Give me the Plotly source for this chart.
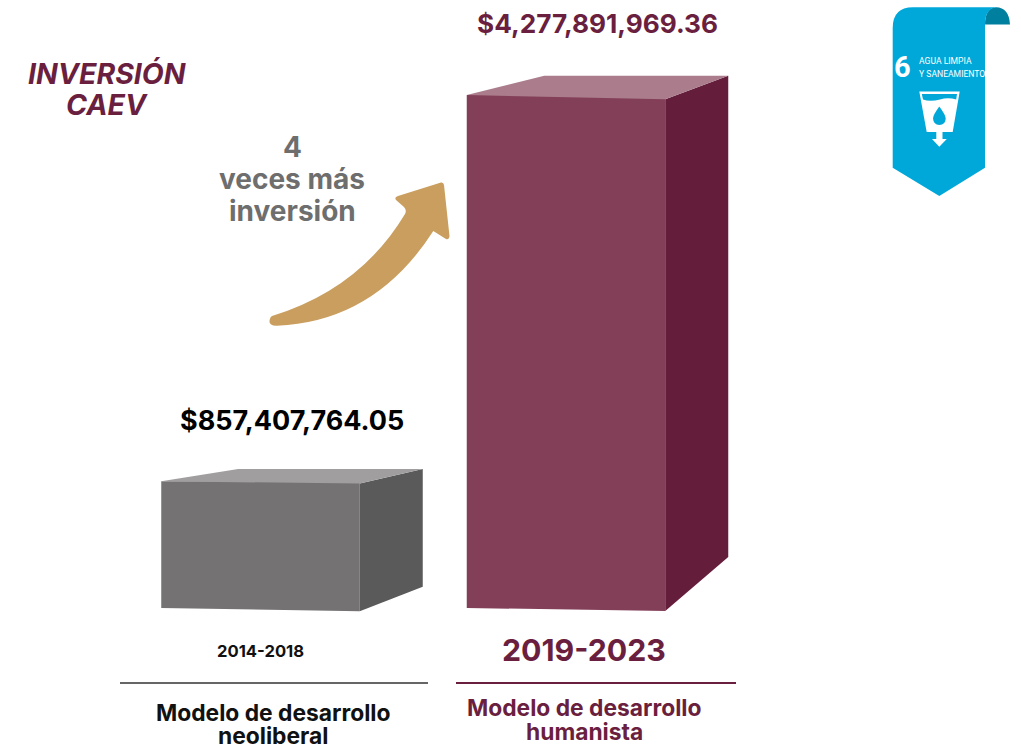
import plotly.graph_objects as go

# ---- data ----
periods = ["2014-2018", "2019-2023"]
values = [857407764.05, 4277891969.36]
value_labels = ["$857,407,764.05", "$4,277,891,969.36"]
models = [["Modelo de desarrollo", "neoliberal"], ["Modelo de desarrollo", "humanista"]]
title_lines = ["INVERSIÓN", "CAEV"]
callout_lines = ["4", "veces más", "inversión"]

# ---- canvas / scale ----
W, H = 1021, 744
X_PER_CAT = 305.5      # px between category centres
Y_PER_UNIT = 386.3 / (values[1] - values[0])  # px per peso
BASE_VALUE = values[1] - 513 / Y_PER_UNIT
x_range = [-260.5 / X_PER_CAT, (W - 260.5) / X_PER_CAT]
y_top = values[1] + 95 / Y_PER_UNIT
y_bot = values[1] - (H - 95) / Y_PER_UNIT
BAR_W = 198.5 / X_PER_CAT

front_colors = ["#747273", "#833f58"]
side_colors = ["#5a5a5a", "#651d3c"]
top_colors = ["#a09e9f", "#ab7d8c"]
MAROON = "#6b1f3f"
# per-bar 3-D styling, in px
depth_x = [63, 63]
depth_top = [12.2, 19.3]
depth_bottom = [21.3, 51]
tilt_top = [2.3, 4.3]
tilt_bottom = [3.3, 3]
back_left = [77, 77.5]

fig = go.Figure()
dx = 1 / X_PER_CAT
dy = 1 / Y_PER_UNIT

def poly(xs, ys, color):
    fig.add_trace(go.Scatter(x=xs, y=ys, mode="lines", fill="toself", fillcolor=color,
                             line=dict(width=0, color=color), hoverinfo="skip", showlegend=False))

fig.add_trace(go.Bar(x=[0, 1], y=[v - BASE_VALUE for v in values], base=BASE_VALUE, width=BAR_W,
                     marker=dict(color=front_colors, line=dict(width=0)), hoverinfo="skip", showlegend=False))

for i, v in enumerate(values):
    l, r = i - BAR_W / 2, i + BAR_W / 2
    rt = v - tilt_top[i] * dy
    rb = BASE_VALUE - tilt_bottom[i] * dy
    back = v + depth_top[i] * dy
    # bottom wedge of the front face
    poly([l, r, r, l], [BASE_VALUE, BASE_VALUE, rb, BASE_VALUE], front_colors[i])
    # side
    poly([r, r + depth_x[i] * dx, r + depth_x[i] * dx, r],
         [rt, back, BASE_VALUE + depth_bottom[i] * dy, rb],
         side_colors[i])
    # top
    poly([l, l + back_left[i] * dx, r + depth_x[i] * dx, r, l], [v, back, back, rt, v], top_colors[i])

# ---- helpers for page-pixel placed decorations ----
def px(x):
    return x / W
def py(y):
    return 1 - y / H
def path(*cmds):
    out = []
    for c in cmds:
        if isinstance(c, str):
            out.append(c)
        else:
            out.append(f"{px(c[0]):.5f},{py(c[1]):.5f}")
    return " ".join(out)

shapes = []
def add_path(color, *cmds):
    shapes.append(dict(type="path", xref="paper", yref="paper", path=path(*cmds),
                       fillcolor=color, line=dict(width=0), layer="above"))

# rules
for x0, x1, col in [(120, 428, "#666666"), (456, 736, MAROON)]:
    shapes.append(dict(type="line", xref="paper", yref="paper", x0=px(x0), x1=px(x1),
                       y0=py(683), y1=py(683), line=dict(color=col, width=2)))

# growth arrow
add_path("#c99e5e", "M", (272, 316), "Q", (360, 289), (405, 214), "Q", (407, 210), (404, 207), "L", (396, 200),
         "Q", (394, 197), (398, 196), "L", (441, 182.5), "Q", (443.5, 182), (444, 185), "L", (449.5, 236),
         "Q", (449, 240), (446, 239), "L", (433.3, 231), "Q", (375, 321.7), (277, 325.7),
         "Q", (269, 326), (269.5, 321), "Q", (270, 317), (272, 316), "Z")

# SDG ribbon
BLUE = "#00a8d9"
add_path("#007f9f", "M", (985, 24.5), "Q", (985, 8), (996, 7.3), "Q", (1009, 7.5), (1010, 24.5), "Z")
add_path(BLUE, "M", (892.7, 28), "Q", (892.7, 7.3), (913, 7.3), "L", (997, 7.3), "Q", (985, 8), (985, 24.5),
         "L", (985, 167.7), "L", (939.3, 196), "L", (892.7, 167.7), "Z")
add_path("white", "M", (919.3, 91.5), "L", (959.7, 91.5), "L", (952.7, 132), "L", (942.5, 132), "L", (942.5, 139),
         "L", (946.8, 139), "L", (939.3, 146.7), "L", (932, 139), "L", (936.3, 139), "L", (936.3, 132),
         "L", (926.7, 132), "Z")
add_path(BLUE, "M", (921.8, 94), "L", (957, 94), "L", (956.2, 99.5), "Q", (948, 97), (940, 99.5),
         "Q", (930, 102), (923, 99.5), "Z")
add_path(BLUE, "M", (939.3, 106.5), "Q", (933, 115), (933, 118.5), "Q", (933.5, 125), (939.3, 125),
         "Q", (945.5, 125), (945.7, 118.5), "Q", (945.7, 115), (939.3, 106.5), "Z")

# ---- text ----
ann = []
FONT = "Inter"
def label(x, y, text, size, color, family=FONT, italic=False, bold=True, xanchor="center"):
    t = f"<b>{text}</b>" if bold else text
    if italic:
        t = f"<i>{t}</i>"
    ann.append(dict(xref="paper", yref="paper", x=px(x), y=py(y), text=t, showarrow=False,
                    xanchor=xanchor, yanchor="middle", font=dict(family=family, size=size, color=color)))

label(292, 420, value_labels[0], 27, "#000000")
label(597, 24, value_labels[1], 26.2, MAROON)
for y, t in zip([73, 105], title_lines):
    label(107, y, t, 28.5, MAROON, italic=True)
for y, t in zip([147, 179, 211], callout_lines):
    label(292, y, t, 28, "#6e6e6e")
label(260, 651, periods[0], 16.6, "#111111")
label(584, 650, periods[1], 30.3, MAROON)
for y, t in zip([712, 735], models[0]):
    label(273, y, t, 22.8, "#111111")
for y, t in zip([707, 731], models[1]):
    label(584, y, t, 22.8, MAROON)
SMALL = "Roboto"
label(902, 67, "6", 29, "white", family=SMALL)
label(917, 61, "AGUA LIMPIA", 8.6, "white", family=SMALL, bold=False, xanchor="left")
label(917, 74, "Y SANEAMIENTO", 8.6, "white", family=SMALL, bold=False, xanchor="left")

fig.update_layout(
    width=W, height=H, margin=dict(l=0, r=0, t=0, b=0), paper_bgcolor="white", plot_bgcolor="white",
    xaxis=dict(range=x_range, visible=False, fixedrange=True),
    yaxis=dict(range=[y_bot, y_top], visible=False, fixedrange=True),
    shapes=shapes, annotations=ann, showlegend=False, barmode="overlay",
)
fig.write_html("out.html", config=dict(displayModeBar=False),
               post_script="document.body.style.margin='0';document.body.style.overflow='hidden';")
